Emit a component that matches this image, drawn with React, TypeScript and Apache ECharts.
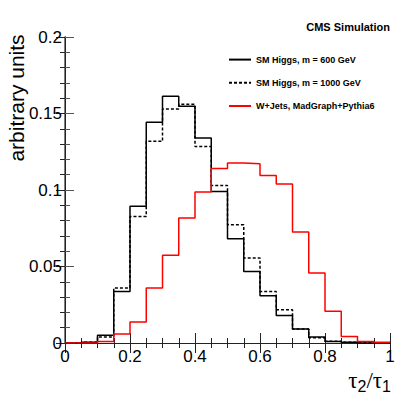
import React, { useEffect, useRef } from "react";
import * as echarts from "echarts";

const binWidth = 0.05;
const higgs600 = [0, 0.0005, 0.005, 0.0337, 0.0893, 0.1442, 0.1612, 0.1547, 0.134, 0.099, 0.0682, 0.0468, 0.0309, 0.018, 0.0091, 0.004, 0.001, 0.0005, 0, 0];
const higgs1000 = [0, 0.0005, 0.004, 0.036, 0.0827, 0.1318, 0.153, 0.156, 0.1285, 0.103, 0.0773, 0.0556, 0.0337, 0.0218, 0.0091, 0.0035, 0.0012, 0.0005, 0.0002, 0];
const wjets = [0, 0, 0.001, 0.0059, 0.0137, 0.036, 0.0573, 0.0817, 0.0987, 0.114, 0.1176, 0.1172, 0.1095, 0.104, 0.0725, 0.0457, 0.0207, 0.0043, 0.001, 0.0005];
const seriesNames = ["SM Higgs, m = 600 GeV", "SM Higgs, m = 1000 GeV", "W+Jets, MadGraph+Pythia6"];

const FONT = "Liberation Sans, Arial, Helvetica, sans-serif";

function steps(vals: number[]) {
  const pts: number[][] = vals.map((v, i) => [+(i * binWidth).toFixed(2), v]);
  pts.push([1, vals[vals.length - 1]]);
  return pts;
}

export default function App() {
  const ref = useRef<HTMLDivElement>(null);
  useEffect(() => {
    if (!ref.current) return;
    const chart = echarts.init(ref.current, null, { renderer: "svg" });
    const axisCommon = {
      axisLine: { show: true, lineStyle: { color: "#222", width: 1 } },
      splitLine: { show: false },
    };
    const option: any = {
      animation: false,
      backgroundColor: "#fff",
      grid: { left: 65, right: 17, top: 37, bottom: 52, containLabel: false },
      xAxis: [
        {
          type: "value", min: 0, max: 1, interval: 0.2, position: "bottom",
          ...axisCommon,
          axisTick: { show: true, inside: true, length: 10, lineStyle: { color: "#222" } },
          minorTick: { show: true, splitNumber: 4, length: 5, lineStyle: { color: "#222" } },
          axisLabel: { show: true, fontSize: 17, color: "#000", fontFamily: FONT, margin: 5 },
        },
        {
          type: "value", min: 0, max: 1, interval: 0.2, position: "top",
          ...axisCommon,
          axisTick: { show: true, inside: true, length: 10, lineStyle: { color: "#222" } },
          minorTick: { show: true, splitNumber: 4, length: 5, lineStyle: { color: "#222" } },
          axisLabel: { show: false },
        },
      ],
      yAxis: [
        {
          type: "value", min: 0, max: 0.2, interval: 0.05, position: "left",
          ...axisCommon,
          axisLine: { show: true, lineStyle: { color: "#555", width: 1.5 } },
          axisTick: { show: true, inside: true, length: 9, lineStyle: { color: "#555" } },
          minorTick: { show: true, splitNumber: 5, length: 5, lineStyle: { color: "#555" } },
          axisLabel: { show: true, fontSize: 17, color: "#000", fontFamily: FONT, margin: 3 },
        },
        {
          type: "value", min: 0, max: 0.2, interval: 0.05, position: "right",
          ...axisCommon,
          axisTick: { show: true, inside: true, length: 9, lineStyle: { color: "#222" } },
          minorTick: { show: true, splitNumber: 5, length: 5, lineStyle: { color: "#222" } },
          axisLabel: { show: false },
        },
      ],
      legend: {
        orient: "vertical",
        left: 228,
        top: 54,
        itemWidth: 22,
        itemHeight: 14,
        itemGap: 12,
        padding: 0,
        itemStyle: { opacity: 0 },
        textStyle: { fontSize: 9, fontWeight: "bold", color: "#000", fontFamily: FONT },
        data: seriesNames,
      },
      graphic: [
        {
          type: "text", x: 390, y: 27,
          style: { text: "CMS Simulation", font: `bold 11px ${FONT}`, fill: "#000", textAlign: "right", textVerticalAlign: "middle" },
        },
        {
          type: "text", x: 16, y: 98, rotation: Math.PI / 2,
          style: { text: "arbitrary units", font: `21px ${FONT}`, fill: "#000", textAlign: "center", textVerticalAlign: "middle" },
        },
        {
          type: "text", x: 391, y: 380,
          style: {
            text: "{t|τ}{s|2}{t|/τ}{s|1}",
            textAlign: "right",
            textVerticalAlign: "middle",
            rich: {
              t: { fontSize: 23, fontFamily: "Liberation Serif, DejaVu Serif, serif", fill: "#000", verticalAlign: "middle", lineHeight: 28 },
              s: { fontSize: 16, fontFamily: FONT, fill: "#000", verticalAlign: "bottom", lineHeight: 28 },
            },
          },
        },
      ],
      series: [
        {
          name: seriesNames[0], type: "line", step: "end", symbol: "none",
          data: steps(higgs600),
          lineStyle: { color: "#000", width: 1.5 }, itemStyle: { color: "#000" },
        },
        {
          name: seriesNames[1], type: "line", step: "end", symbol: "none",
          data: steps(higgs1000),
          lineStyle: { color: "#000", width: 1.5, type: [3, 2] }, itemStyle: { color: "#000" },
        },
        {
          name: seriesNames[2], type: "line", step: "end", symbol: "none",
          data: steps(wjets),
          lineStyle: { color: "#ff0000", width: 1.5 }, itemStyle: { color: "#ff0000" },
        },
      ],
    };
    chart.setOption(option);
    return () => chart.dispose();
  }, []);
  return <div ref={ref} style={{ width: 407, height: 395, position: "absolute", left: 0, top: 0 }} />;
}
